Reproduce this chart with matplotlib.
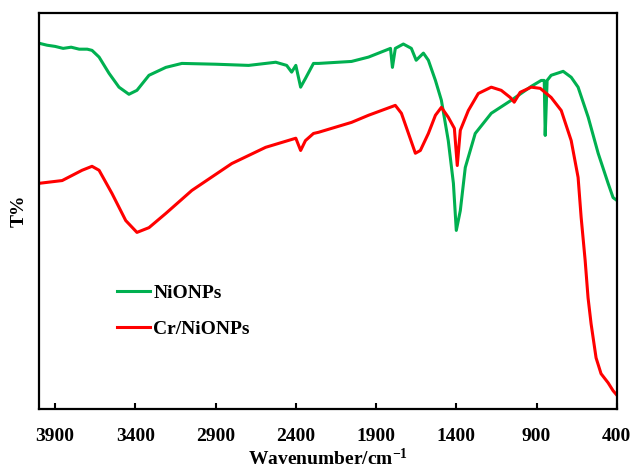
import matplotlib
matplotlib.use("Agg")
import matplotlib.pyplot as plt

plt.rcParams['font.family'] = ['Liberation Serif', 'DejaVu Serif']
plt.rcParams['font.weight'] = 'bold'
plt.rcParams['mathtext.fontset'] = 'custom'
plt.rcParams['mathtext.rm'] = 'Liberation Serif:bold'
plt.rcParams['mathtext.default'] = 'rm'

# NiONPs spectrum (wavenumber, T%)
ni_wn = [4000, 3950, 3900, 3850, 3800, 3750, 3700, 3670, 3626, 3564, 3502, 3440,
         3390, 3315, 3210, 3110, 2900, 2694, 2525, 2457, 2426, 2400, 2370, 2340,
         2290, 2258, 2053, 1947, 1810, 1798, 1780, 1730, 1680, 1650, 1605, 1574,
         1530, 1493, 1450, 1418, 1400, 1375, 1344, 1282, 1182, 1057, 933, 871,
         852, 846, 834, 809, 734, 684, 641, 578, 516, 454, 423, 400]
ni_t = [92.4, 91.9, 91.6, 91.1, 91.4, 90.9, 90.9, 90.6, 88.9, 84.8, 81.3, 79.5,
        80.5, 84.3, 86.3, 87.3, 87.1, 86.8, 87.6, 86.8, 85.1, 86.8, 81.3, 83.5,
        87.3, 87.3, 87.8, 88.9, 91.1, 86.3, 91.1, 92.2, 91.1, 88.1, 89.9, 88.1,
        83.0, 78.0, 67.8, 57.0, 45.1, 50.1, 61.0, 69.6, 74.7, 78.0, 81.5, 83.0,
        83.0, 69.1, 83.0, 84.3, 85.3, 83.8, 81.3, 73.7, 64.6, 57.0, 53.4, 52.7]

# Cr/NiONPs spectrum (wavenumber, T%)
cr_wn = [4000, 3856, 3732, 3670, 3626, 3545, 3460, 3390, 3315, 3210, 3048, 2799,
         2588, 2400, 2370, 2340, 2290, 2258, 2053, 1947, 1780, 1742, 1698, 1655,
         1624, 1574, 1530, 1493, 1450, 1412, 1394, 1375, 1325, 1263, 1182, 1120,
         1064, 1039, 1002, 933, 877, 809, 746, 684, 641, 622, 597, 579, 560, 529,
         498, 454, 423, 400]
cr_t = [57.0, 57.7, 60.3, 61.3, 60.3, 54.4, 47.6, 44.6, 45.8, 49.4, 55.2, 62.0,
        66.1, 68.4, 65.3, 67.8, 69.6, 69.9, 72.4, 74.2, 76.7, 74.7, 69.6, 64.6,
        65.3, 69.6, 74.2, 76.2, 73.7, 70.9, 61.5, 70.4, 75.4, 79.7, 81.3, 80.5,
        78.7, 77.5, 80.0, 81.3, 81.0, 78.7, 75.4, 67.8, 58.5, 48.4, 37.5, 28.1,
        21.5, 12.9, 8.9, 6.6, 4.6, 3.5]

xticks = [3900, 3400, 2900, 2400, 1900, 1400, 900, 400]

fig = plt.figure(figsize=(6.3, 4.7), dpi=100)
ax = fig.add_axes([0.062, 0.130, 0.917, 0.842])

ax.plot(ni_wn, ni_t, color='#00B050', lw=2.2, label='NiONPs')
ax.plot(cr_wn, cr_t, color='#FF0000', lw=2.2, label='Cr/NiONPs')

ax.set_xlim(4000, 400)
ax.set_ylim(0, 100)
ax.set_xticks(xticks)
ax.set_yticks([])
ax.tick_params(axis='x', direction='in', length=4, width=1.5, pad=14, labelsize=14)
for s in ax.spines.values():
    s.set_linewidth(1.6)

ax.set_xlabel('Wavenumber/cm$^{-1}$', fontsize=14, fontweight='bold', labelpad=2)
ax.set_ylabel('T%', fontsize=14, fontweight='bold', labelpad=8)

ax.legend(loc='upper left', bbox_to_anchor=(0.105, 0.36), frameon=False,
          fontsize=14, handlelength=1.7, handletextpad=0.15, labelspacing=0.95)

fig.savefig('out.png', dpi=100)
